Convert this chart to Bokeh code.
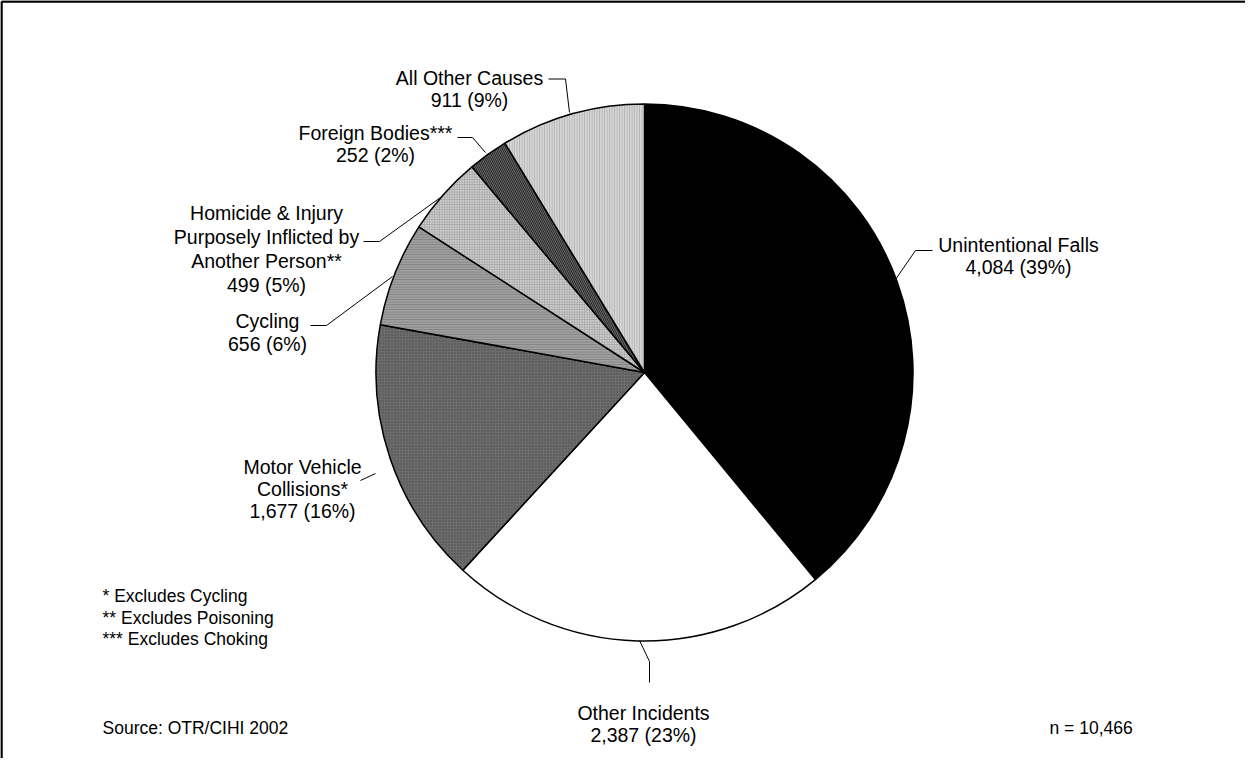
from bokeh.plotting import figure
from bokeh.models import Range1d, ColumnDataSource
from bokeh.embed import file_html
from bokeh.resources import INLINE
from bokeh.core.properties import value
import numpy as np

# ---------------- data ----------------
categories = ["Unintentional Falls", "Other Incidents", "Motor Vehicle Collisions*",
              "Cycling", "Homicide & Injury Purposely Inflicted by Another Person**",
              "Foreign Bodies***", "All Other Causes"]
counts = [4084, 2387, 1677, 656, 499, 252, 911]
percents = [39, 23, 16, 6, 5, 2, 9]
name_lines = [["Unintentional Falls"], ["Other Incidents"], ["Motor Vehicle", "Collisions*"],
              ["Cycling"], ["Homicide & Injury", "Purposely Inflicted by", "Another Person**"],
              ["Foreign Bodies***"], ["All Other Causes"]]
footnotes = ["* Excludes Cycling", "** Excludes Poisoning", "*** Excludes Choking"]
source_note = "Source: OTR/CIHI 2002"
n_note = "n = 10,466"

# ---------------- styles ----------------
fills = ["#000000", "#ffffff", "#6c6c6c", "#a0a0a0", "#d0d0d0", "#666666", "#d6d6d6"]
hatches = [" ", " ", "dot", "horizontal_line", "cross", "left_diagonal_line", "vertical_line"]
hatch_colors = ["#000000", "#000000", "#4a4a4a", "#808080", "#a8a8a8", "#2a2a2a", "#b0b0b0"]
hatch_scales = [4, 4, 3, 2.5, 2.5, 4, 2.5]

# ---------------- layout (page pixels) ----------------
W, H = 1245, 758
def P(px, py):
    return px - 8, 766 - py

cx, cy = P(652, 380)
R = 268.5

# label anchor: center x, first baseline y, line spacing (pixels)
label_pos = [(1026, 252.7, 21.6), (651, 720, 22), (310, 474, 22), (275, 328.3, 23.4),
             (274, 220, 24.2), (383, 140, 22), (477, 85.5, 21.5)]
leaders = [
    [(903, 287), (923, 258), (940, 258)],
    [(647, 648), (657, 669), (657, 690)],
    [(368, 488), (383, 481)],
    [(318, 333), (334, 333), (400, 284)],
    [(371, 249), (387, 249), (448, 205)],
    [(465, 145), (480, 145), (493, 160)],
    [(556, 86.5), (573, 86.5), (577, 120)],
]

total = sum(counts)
cum = np.concatenate([[0], np.cumsum(counts)]) / total * 2 * np.pi
starts = [np.pi / 2 - cum[i + 1] for i in range(len(counts))]
ends = [np.pi / 2 - cum[i] for i in range(len(counts))]

p = figure(width=W, height=H, x_range=Range1d(0, W), y_range=Range1d(0, H),
           x_axis_type=None, y_axis_type=None, toolbar_location=None,
           output_backend="svg", min_border=0)
p.outline_line_color = None
p.grid.visible = False
p.background_fill_color = "white"

src = ColumnDataSource(dict(start=starts, end=ends, fill=fills, hatch=hatches,
                            hcol=hatch_colors, hscale=hatch_scales, cat=categories))
p.wedge(x=cx, y=cy, radius=R, start_angle="start", end_angle="end", source=src,
        fill_color="fill", hatch_pattern="hatch", hatch_color="hcol",
        hatch_scale="hscale", hatch_weight=1, line_color="black", line_width=1.5)

font = value("Liberation Sans")
tx, ty, tt = [], [], []
for i in range(len(counts)):
    lx, by, sp = label_pos[i]
    lines = name_lines[i] + [f"{counts[i]:,} ({percents[i]}%)"]
    for k, line in enumerate(lines):
        x, y = P(lx, by + k * sp)
        tx.append(x); ty.append(y); tt.append(line)
p.text(x=tx, y=ty, text=tt, text_align="center", text_baseline="alphabetic",
       text_font=font, text_font_size="19.5px", text_color="black")

for pts in leaders:
    xs, ys = zip(*[P(a, b) for a, b in pts])
    p.line(list(xs), list(ys), line_color="black", line_width=1)

fx, fy = [], []
for k, t in enumerate(footnotes):
    x, y = P(110, 603.3 + k * 21.7)
    fx.append(x); fy.append(y)
p.text(x=fx, y=fy, text=footnotes, text_align="left", text_baseline="alphabetic",
       text_font=font, text_font_size="17.5px", text_color="black")
sx, sy = P(110, 735)
p.text(x=[sx], y=[sy], text=[source_note], text_align="left", text_baseline="alphabetic",
       text_font=font, text_font_size="17.5px", text_color="black")
nx, ny = P(1057, 735)
p.text(x=[nx], y=[ny], text=[n_note], text_align="left", text_baseline="alphabetic",
       text_font=font, text_font_size="17.5px", text_color="black")

# frame (top and left edges visible)
p.line([1, 1], [0, 757], line_color="black", line_width=2.5)
p.line([1, W], [757, 757], line_color="black", line_width=2.5)

open("out.html", "w").write(file_html(p, INLINE))
